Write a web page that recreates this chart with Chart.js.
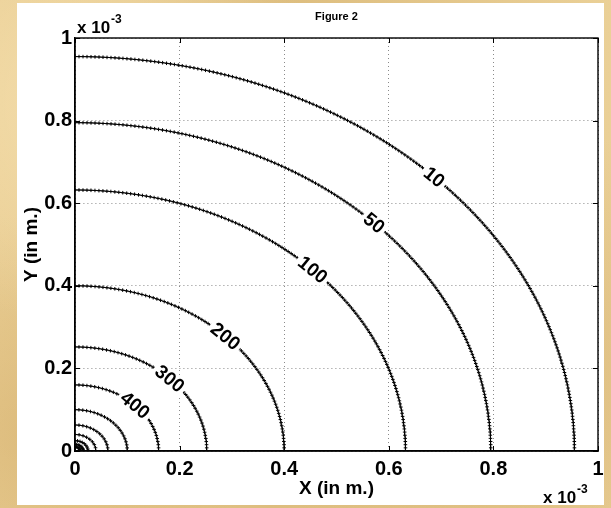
<!DOCTYPE html>
<html><head><meta charset="utf-8">
<script src="https://cdn.jsdelivr.net/npm/chart.js@4"></script>
<style>
html,body{margin:0;padding:0;}
body{width:611px;height:508px;overflow:hidden;position:relative;
 background:
  radial-gradient(circle at 15% 20%, rgba(255,238,195,.55), transparent 35%),
  radial-gradient(circle at 85% 75%, rgba(196,150,80,.35), transparent 40%),
  radial-gradient(circle at 5% 85%, rgba(205,165,95,.4), transparent 30%),
  linear-gradient(90deg,#e9cd93,#ddbd7e 45%,#ead097);}
#panel{position:absolute;left:17px;top:3px;width:587px;height:502px;background:#fff;}
#c{position:absolute;left:0;top:0;}
</style></head>
<body>
<div id="panel"></div>
<canvas id="c" width="611" height="508"></canvas>
<script>
// ---- data (units of 1e-3 m) ----
const contourRadii  = [0.955, 0.795, 0.632, 0.400, 0.252, 0.160, 0.100, 0.063, 0.040, 0.025, 0.016, 0.010];
const contourLabels = ['10', '50', '100', '200', '300', '400', '', '', '', '', '', ''];
const xTickValues = [0, 0.2, 0.4, 0.6, 0.8, 1];
const xTickLabels = ['0', '0.2', '0.4', '0.6', '0.8', '1'];
const yTickValues = [0, 0.2, 0.4, 0.6, 0.8, 1];
const yTickLabels = ['0', '0.2', '0.4', '0.6', '0.8', '1'];
const titleText = 'Figure 2';
const xTitle = 'X (in m.)';
const yTitle = 'Y (in m.)';

// ---- build contour point lists (quarter circles of the read radii) ----
const LABEL_ANGLE = 44; // degrees, where inline labels sit
function quarter(r){
  const n = Math.max(8, Math.round(r*205));
  const pts = [];
  for(let k=0;k<=n;k++){
    const t = (Math.PI/2)*k/n;
    pts.push({x: r*Math.cos(t), y: r*Math.sin(t)});
  }
  return pts;
}
const datasets = contourRadii.map((r,i)=>({
  label: contourLabels[i] || ('c'+i),
  data: quarter(r),
  showLine: true,
  borderColor: '#000',
  borderWidth: 1,
  pointStyle: 'cross',
  pointRadius: 1.8,
  pointBorderWidth: 1,
  pointBorderColor: '#000',
  pointBackgroundColor: '#000'
}));

const FONT = '"Liberation Sans", Arial, Helvetica, sans-serif';

const deco = {
  id: 'deco',
  afterDatasetsDraw(chart){
    const {ctx, chartArea:a, scales:{x, y}} = chart;
    // inline contour labels
    const th = LABEL_ANGLE*Math.PI/180;
    contourRadii.forEach((r,i)=>{
      const lab = contourLabels[i];
      if(!lab) return;
      const px = x.getPixelForValue(r*Math.cos(th));
      const py = y.getPixelForValue(r*Math.sin(th));
      const dx = x.getPixelForValue(r*Math.sin(th)) - x.getPixelForValue(0);
      const dy = y.getPixelForValue(0) - y.getPixelForValue(r*Math.cos(th));
      const ang = Math.atan2(dy, dx);
      ctx.save();
      ctx.translate(px, py);
      ctx.rotate(ang);
      ctx.font = 'bold 19px ' + FONT;
      const w = ctx.measureText(lab).width;
      ctx.fillStyle = '#fff';
      ctx.fillRect(-w/2-3, -8, w+6, 16);
      ctx.fillStyle = '#000';
      ctx.textAlign = 'center';
      ctx.textBaseline = 'middle';
      ctx.fillText(lab, 0, 1);
      ctx.restore();
    });
    // box and inward ticks
    ctx.save();
    ctx.strokeStyle = '#000';
    ctx.lineWidth = 1.4;
    ctx.strokeRect(a.left, a.top, a.right-a.left, a.bottom-a.top);
    ctx.lineWidth = 1;
    ctx.beginPath();
    xTickValues.forEach(v=>{
      const p = Math.round(x.getPixelForValue(v))+0.5;
      ctx.moveTo(p, a.bottom); ctx.lineTo(p, a.bottom-5);
      ctx.moveTo(p, a.top); ctx.lineTo(p, a.top+5);
    });
    yTickValues.forEach(v=>{
      const p = Math.round(y.getPixelForValue(v))+0.5;
      ctx.moveTo(a.left, p); ctx.lineTo(a.left+5, p);
      ctx.moveTo(a.right, p); ctx.lineTo(a.right-5, p);
    });
    ctx.stroke();
    ctx.restore();
  },
  afterDraw(chart){
    const {ctx, chartArea:a} = chart;
    ctx.save();
    ctx.fillStyle = '#000';
    // title
    ctx.font = 'bold 11px ' + FONT;
    ctx.textAlign = 'center';
    ctx.textBaseline = 'middle';
    ctx.fillText(titleText, (a.left+a.right)/2, 17);
    // exponent labels
    function expo(xp, yb){
      ctx.textAlign = 'left';
      ctx.textBaseline = 'alphabetic';
      ctx.font = 'bold 17px ' + FONT;
      ctx.fillText('x 10', xp, yb);
      const w = ctx.measureText('x 10').width;
      ctx.font = 'bold 12px ' + FONT;
      ctx.fillText('-3', xp + w + 1, yb - 10);
    }
    expo(a.left + 2, 33);
    expo(543, 503);
    ctx.restore();
  }
};

new Chart(document.getElementById('c'), {
  type: 'scatter',
  data: { datasets },
  options: {
    responsive: false,
    animation: false,
    events: [],
    layout: { padding: { top: 38, right: 13, left: 0, bottom: 0 } },
    plugins: { legend: { display: false }, tooltip: { enabled: false }, title: { display: false } },
    scales: {
      x: {
        type: 'linear', min: 0, max: 1,
        afterBuildTicks: s => { s.ticks = xTickValues.map(v=>({value:v})); },
        afterFit: s => { s.height = 57; },
        ticks: { autoSkip: false, maxRotation: 0, padding: 6, color: '#000',
          font: { family: FONT, size: 20, weight: 'bold' },
          callback: (v, i) => xTickLabels[i] },
        grid: { color: '#8a8a8a', lineWidth: 1, drawTicks: false },
        border: { display: true, color: '#000', width: 1.4, dash: [1, 3] },
        title: { display: true, text: xTitle, color: '#000',
          font: { family: FONT, size: 19, weight: 'bold', lineHeight: 1 },
          padding: { top: 0, bottom: 10 } }
      },
      y: {
        type: 'linear', min: 0, max: 1,
        afterBuildTicks: s => { s.ticks = yTickValues.map(v=>({value:v})); },
        afterFit: s => { s.width = 75; },
        ticks: { autoSkip: false, padding: 3, color: '#000',
          font: { family: FONT, size: 20, weight: 'bold' },
          callback: (v, i) => yTickLabels[i] },
        grid: { color: '#8a8a8a', lineWidth: 1, drawTicks: false },
        border: { display: true, color: '#000', width: 1.4, dash: [1, 3] },
        title: { display: true, text: yTitle, color: '#000',
          font: { family: FONT, size: 19, weight: 'bold', lineHeight: 1 },
          padding: { top: 22, bottom: 0 } }
      }
    }
  },
  plugins: [deco]
});
</script>
</body></html>
